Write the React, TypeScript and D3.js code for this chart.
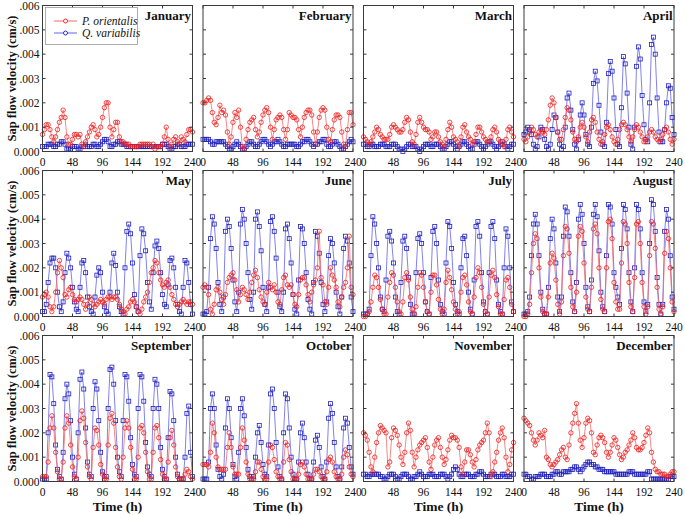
import React from 'react';
import * as d3 from 'd3';

// ---------- data (units of 0.0001 cm/s, sampled every 3 h) ----------
const MONTHS = ['January', 'February', 'March', 'April', 'May', 'June', 'July', 'August', 'September', 'October', 'November', 'December'];
const HOURS = d3.range(0, 241, 3);
const X_TICKS = [0, 48, 96, 144, 192, 240];
const Y_TICKS = [0, 0.001, 0.002, 0.003, 0.004, 0.005, 0.006];
const Y_TICK_LABELS = ['0.000', '.001', '.002', '.003', '.004', '.005', '.006'];
const SERIES_NAMES = ['P. orientalis', 'Q. variabilis'];
const UNIT = 0.0001;

const janRed = [7,9,11,11,9,6,4,6,9,12, 14,17,14,6,3,3,5,7,7,6, 7,3,2,4,6,8,10,11,9,6, 7,10,14,18,20,20,10,6,9,12, 12,6,4,4,3,3,3,2,2,2, 2,2,3,3,3,3,3,3,2,3, 1,2,2,2,3,6,10,5,2,3, 5,6,4,3,6,5,4,7,9,9, 8];
const janBlue = [2,2,2,3,3,3,2,2,3,3, 4,4,3,1,1,1,2,2,2,1, 1,2,2,3,2,2,2,3,3,2, 2,3,4,5,5,4,2,2,3,3, 4,4,3,3,3,2,2,2,2,2, 2,2,2,2,2,2,2,2,2,2, 2,2,2,2,3,3,3,2,1,1, 2,2,3,3,2,2,2,3,3,3, 3];
const febRed = [20,20,21,22,21,16,12,11,14,19, 16,17,15,8,3,6,12,16,14,17, 10,2,1,5,9,12,13,14,9,6, 8,12,15,17,18,16,10,5,9,13, 14,15,14,9,5,9,16,15,14,14, 13,9,6,10,14,16,17,17,15,8, 3,8,14,17,18,17,10,5,4,9, 13,15,15,14,8,3,2,9,16,16, 11];
const febBlue = [5,5,5,5,4,3,3,4,4,4, 4,4,3,2,1,1,2,3,4,3, 2,1,1,2,3,4,4,3,2,2, 3,4,5,5,4,3,2,3,4,4, 5,4,3,2,2,3,3,3,3,3, 2,2,3,4,4,5,5,4,3,2, 3,3,4,4,5,5,3,2,2,3, 4,4,3,2,1,1,2,3,4,5, 4];
const marRed = [6,5,4,3,4,6,8,10,9,7, 6,5,5,5,7,10,11,10,9,8, 8,9,12,14,13,8,4,3,7,12, 14,12,10,9,9,8,5,6,8,8, 6,4,3,2,5,9,12,10,6,5, 4,2,6,10,11,8,6,5,3,4, 7,10,10,8,6,5,4,4,6,9, 10,8,5,4,3,2,5,9,10,8, 6];
const marBlue = [3,3,2,2,3,3,2,2,2,3, 3,3,2,2,2,3,3,3,2,1, 1,0,1,2,3,3,2,2,2,1, 0,1,2,3,3,3,2,2,3,3, 3,2,1,1,2,3,4,4,3,2, 1,2,3,4,4,3,2,1,1,3, 4,4,3,2,1,2,3,4,4,3, 2,1,2,3,4,3,2,1,2,3, 3];
const aprRed = [5,4,6,8,10,9,7,6,8,9, 8,7,9,13,19,22,20,14,8,5, 5,9,14,18,17,13,8,5,4,6, 10,12,10,6,4,8,13,14,12,8, 5,3,4,7,10,11,9,6,4,3, 5,9,11,12,11,9,6,4,6,9, 11,10,8,6,4,4,6,8,9,8, 6,5,4,5,7,9,10,8,5,3, 5];
const aprBlue = [7,8,10,9,7,3,1,2,6,10, 9,5,2,1,3,9,15,14,8,3, 1,2,10,22,24,17,9,3,1,5, 15,20,15,7,3,2,10,28,33,29, 19,8,3,2,12,32,37,33,22,9, 3,2,18,39,36,24,10,3,1,10, 35,43,38,23,11,5,4,20,44,47, 40,22,8,4,4,9,20,27,26,14, 7];
const mayRed = [8,9,10,8,4,2,4,10,18,23, 20,16,9,8,11,12,9,7,6,7, 8,7,5,3,5,8,7,5,4,5, 6,7,6,5,7,8,8,7,8,8, 7,5,3,2,1,3,4,6,7,6, 4,2,1,3,6,8,10,14,18,20, 23,22,18,15,13,12,14,15,12,9, 7,5,4,5,6,7,6,5,6,6, 5];
const mayBlue = [2,2,5,14,22,24,24,20,10,4, 2,6,18,26,24,20,12,6,3,2, 12,22,23,18,8,4,2,1,8,17, 20,18,10,4,2,1,10,22,26,21, 10,4,2,1,20,35,38,34,22,9, 4,2,25,36,34,27,14,6,3,18, 29,31,28,18,9,5,4,13,23,24, 20,12,5,2,1,12,23,22,14,5, 1];
const junRed = [12,13,12,9,3,1,5,11,12,10, 7,5,9,14,16,17,18,15,11,6, 9,12,11,9,7,10,14,17,19,16, 11,8,6,5,10,14,12,11,13,10, 6,5,11,16,17,13,12,13,9,5, 4,9,15,16,16,13,9,6,10,13, 15,20,35,16,13,6,5,12,20,17, 15,12,6,4,8,12,14,20,33,12, 9];
const junBlue = [1,1,2,12,32,41,38,28,14,5, 2,8,35,40,37,28,15,6,2,10, 38,44,40,30,18,7,3,10,40,43, 37,27,12,5,2,12,39,41,35,24, 10,4,2,10,36,38,32,22,9,3, 1,15,37,36,30,18,7,3,1,14, 35,33,26,14,5,2,6,25,32,30, 22,10,4,1,8,28,33,31,22,8, 2];
const julRed = [0,0,1,2,6,12,17,16,12,7, 3,1,1,8,14,18,17,12,6,2, 1,6,16,18,15,8,3,1,4,12, 18,17,12,6,2,1,10,17,17,13, 7,3,1,3,14,19,16,11,6,3, 1,2,10,16,17,13,6,2,1,8, 16,20,18,12,5,2,1,8,17,19, 16,9,4,1,1,7,15,16,12,5, 2];
const julBlue = [1,1,1,3,25,41,38,30,20,8, 3,2,15,33,35,31,22,8,2,1, 14,31,33,28,16,5,1,1,18,32, 34,30,18,6,2,1,16,35,37,30, 15,5,2,1,22,39,37,28,14,5, 2,1,20,32,33,25,10,3,1,15, 37,39,33,18,6,2,1,18,37,39, 32,15,5,2,1,20,36,33,20,6, 2];
const augRed = [0,0,1,5,18,30,34,32,20,8, 2,1,1,8,22,26,24,15,5,1, 6,25,37,36,26,12,4,2,10,33, 37,35,22,8,3,2,12,36,38,34, 20,7,3,2,20,39,40,32,14,6, 3,3,22,39,38,30,14,4,2,16, 38,39,30,14,4,1,4,25,39,38, 28,12,3,1,4,26,35,32,20,6, 2];
const augBlue = [1,1,2,8,25,38,42,38,25,10, 3,1,1,12,32,40,36,22,8,2, 8,33,45,43,33,18,6,2,14,40, 46,42,30,12,4,2,15,42,46,41, 27,10,4,2,25,46,45,38,18,12, 8,5,28,46,44,36,18,6,2,20, 46,44,36,18,6,2,5,30,48,46, 35,16,5,1,5,35,44,40,25,8, 3];
const sepRed = [2,2,2,8,22,27,22,12,4,1, 1,8,22,27,24,15,6,2,1,10, 25,29,26,16,6,2,1,14,22,21, 15,7,3,1,1,15,26,28,24,14, 6,2,1,10,22,25,22,14,5,1, 1,10,22,23,20,12,4,1,1,12, 22,23,18,9,3,1,1,8,18,21, 15,6,2,1,1,1,3,5,4,2, 1];
const sepBlue = [1,1,1,20,44,43,32,15,5,2, 1,12,34,40,36,25,10,3,1,20, 42,45,38,22,8,3,2,30,41,38, 25,12,4,2,2,30,46,47,40,25, 10,4,2,25,44,43,33,18,7,3, 2,30,44,43,33,16,6,3,2,30, 42,40,30,14,5,2,1,18,37,36, 25,10,3,1,1,1,10,28,31,12, 2];
const octRed = [7,7,7,6,12,24,20,10,6,5, 5,5,5,14,20,14,6,3,3,3, 14,22,17,8,3,1,1,1,4,8, 8,5,2,1,1,8,15,14,9,4, 2,1,1,8,16,15,9,4,1,1, 1,3,7,8,6,3,1,1,1,3, 5,5,4,2,1,1,4,9,10,8, 4,2,1,1,3,10,13,11,6,3, 2];
const octBlue = [1,1,1,8,30,36,30,15,5,2, 1,3,22,34,30,18,7,2,1,12, 30,34,27,14,5,2,1,2,10,20, 23,16,7,3,2,15,36,38,30,16, 6,2,1,20,36,34,22,10,3,1, 1,8,20,24,18,8,3,1,1,8, 17,19,14,6,2,1,8,26,32,28, 16,6,2,1,6,22,26,24,14,6, 3];
const novRed = [20,19,17,12,6,4,10,16,20,23, 22,21,20,6,8,18,22,21,19,15, 10,7,12,20,24,21,12,6,10,13, 15,16,17,18,14,8,5,10,15,17, 18,14,10,7,9,13,17,19,18,18, 17,14,6,3,8,13,13,11,8,6, 9,13,15,16,17,20,24,20,2,4, 8,12,17,20,22,18,10,4,7,13, 16];
const novBlue = [3,3,2,2,3,3,3,3,3,2, 2,1,1,2,3,3,3,2,1,1, 2,3,3,3,2,1,1,2,2,3, 4,3,2,2,2,3,3,3,2,2, 2,3,3,3,2,1,2,3,5,6, 5,3,2,2,3,3,3,2,2,2, 3,3,4,4,3,2,2,2,3,3, 3,2,2,2,3,3,2,2,2,3, 3];
const decRed = [26,25,24,23,20,17,15,17,20,19, 18,21,10,9,7,6,7,8,9,11, 13,14,10,9,15,20,24,28,32,24, 17,14,18,24,26,25,20,12,11,15, 18,19,18,16,12,10,12,15,18,17, 14,11,9,10,12,13,15,17,20,18, 14,13,13,14,16,19,22,20,12,8, 5,4,4,3,3,3,2,2,3,4, 4];
const decBlue = [3,3,2,2,1,1,2,2,2,3, 3,3,2,2,2,3,3,4,4,3, 3,4,4,4,4,5,5,6,6,5, 4,5,6,7,8,8,7,7,6,6, 5,5,5,4,4,4,4,4,4,3, 3,3,3,3,3,3,4,4,4,3, 3,3,3,3,3,3,4,4,1,1, 1,1,1,1,1,1,1,1,2,2, 2];

const RED_SERIES = [janRed, febRed, marRed, aprRed, mayRed, junRed, julRed, augRed, sepRed, octRed, novRed, decRed];
const BLUE_SERIES = [janBlue, febBlue, marBlue, aprBlue, mayBlue, junBlue, julBlue, augBlue, sepBlue, octBlue, novBlue, decBlue];

// ---------- style ----------
const SERIF = "'Times New Roman', 'Liberation Serif', 'DejaVu Serif', serif";
const RED = '#ee1c1c';
const RED_LINE = '#f26a6a';
const BLUE = '#1e1ebe';
const BLUE_LINE = '#6262e6';
const FRAME = '#3a3a3a';

const W = 685;
const H = 516;
const PANEL_W = 150;
const PANEL_H = 146;

function Panel({ idx }: { idx: number }) {
  const r = Math.floor(idx / 4);
  const c = idx % 4;
  const left = 42.5 + c * 160.5;
  const top = 5.5 + r * 165;
  const x = d3.scaleLinear().domain([0, 240]).range([left, left + PANEL_W]);
  const y = d3.scaleLinear().domain([0, 0.006]).range([top + PANEL_H, top]);
  const red = RED_SERIES[idx].map((v, i) => [HOURS[i], v * UNIT] as [number, number]);
  const blue = BLUE_SERIES[idx].map((v, i) => [HOURS[i], v * UNIT] as [number, number]);
  const line = d3.line<[number, number]>().x(d => x(d[0])).y(d => y(d[1]));
  const sq = 4;
  return (
    <g>
      <rect x={left} y={top} width={PANEL_W} height={PANEL_H} fill="white" stroke="none" />
      {/* blue series */}
      <path d={line(blue) || ''} fill="none" stroke={BLUE_LINE} strokeWidth={0.8} />
      {blue.map((d, i) => (
        <rect key={'b' + i} x={x(d[0]) - sq / 2} y={y(d[1]) - sq / 2} width={sq} height={sq} fill="none" stroke={BLUE} strokeWidth={0.8} />
      ))}
      {/* red series */}
      <path d={line(red) || ''} fill="none" stroke={RED_LINE} strokeWidth={0.8} />
      {red.map((d, i) => (
        <circle key={'r' + i} cx={x(d[0])} cy={y(d[1])} r={2.2} fill="none" stroke={RED} strokeWidth={0.8} />
      ))}
      {/* frame */}
      <rect x={left} y={top} width={PANEL_W} height={PANEL_H} fill="none" stroke={FRAME} strokeWidth={1} />
      {X_TICKS.map(t => (
        <g key={'xt' + t}>
          <line x1={x(t)} x2={x(t)} y1={top + PANEL_H} y2={top + PANEL_H - 3} stroke={FRAME} />
          <line x1={x(t)} x2={x(t)} y1={top} y2={top + 3} stroke={FRAME} />
          <text x={x(t)} y={top + PANEL_H + 14} fontFamily={SERIF} fontSize={11.5} textAnchor="middle" fill="#111">{t}</text>
        </g>
      ))}
      {Y_TICKS.map((t, i) => (
        <g key={'yt' + i}>
          <line x1={left} x2={left + 3} y1={y(t)} y2={y(t)} stroke={FRAME} />
          <line x1={left + PANEL_W} x2={left + PANEL_W - 3} y1={y(t)} y2={y(t)} stroke={FRAME} />
          {c === 0 && (
            <text x={left - 3} y={y(t)} dy="0.35em" fontFamily={SERIF} fontSize={11.5} textAnchor="end" fill="#111">{Y_TICK_LABELS[i]}</text>
          )}
        </g>
      ))}
      <text x={left + PANEL_W - 1.5} y={top + 14} fontFamily={SERIF} fontSize={13} fontWeight="bold" textAnchor="end" fill="#111">{MONTHS[idx]}</text>
      {c === 0 && (
        <text transform={`translate(${12},${top + PANEL_H / 2}) rotate(-90)`} fontFamily={SERIF} fontSize={12.5} fontWeight="bold" textAnchor="middle" dy="0.35em" fill="#111">Sap flow velocity (cm/s)</text>
      )}
      {r === 2 && (
        <text x={left + PANEL_W / 2} y={511} fontFamily={SERIF} fontSize={13.5} fontWeight="bold" textAnchor="middle" fill="#111">Time (h)</text>
      )}
    </g>
  );
}

function Legend() {
  const lx = 45.5, ly = 7.5;
  const rows = [
    { name: SERIES_NAMES[0], color: RED, lineColor: RED_LINE, y: 21 },
    { name: SERIES_NAMES[1], color: BLUE, lineColor: BLUE_LINE, y: 33 },
  ];
  return (
    <g>
      <rect x={lx} y={ly} width={92} height={37} fill="white" stroke="#999" strokeWidth={0.8} />
      {rows.map(rw => (
        <g key={rw.name}>
          <line x1={54} x2={77} y1={rw.y} y2={rw.y} stroke={rw.lineColor} strokeWidth={1} />
          <circle cx={65.5} cy={rw.y} r={2} fill="white" stroke={rw.color} strokeWidth={0.9} />
          <text x={82} y={rw.y} dy="0.35em" fontFamily={SERIF} fontSize={11.5} fontStyle="italic" fill="#111">{rw.name}</text>
        </g>
      ))}
    </g>
  );
}

export default function App() {
  return (
    <svg width={W} height={H} viewBox={`0 0 ${W} ${H}`} style={{ position: 'absolute', left: 0, top: 0, background: 'white' }}>
      <rect x={0} y={0} width={W} height={H} fill="white" />
      {MONTHS.map((m, i) => <Panel key={m} idx={i} />)}
      <Legend />
    </svg>
  );
}
